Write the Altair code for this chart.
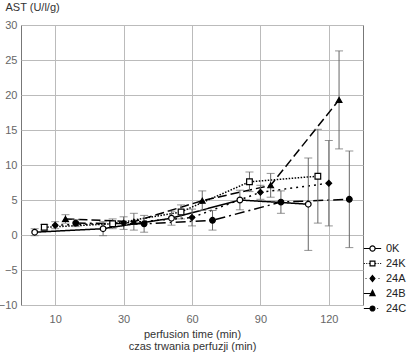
import altair as alt
import pandas as pd

# Perfusion time points (min) and experimental groups
time_points = [10, 30, 60, 90, 120]
groups = ["0K", "24K", "24A", "24B", "24C"]

# Mean AST release (U/l/g) per group at each time point
mean_0K = [0.4, 0.9, 2.4, 5.0, 4.4]
mean_24K = [1.1, 1.6, 3.3, 7.6, 8.4]
mean_24A = [1.4, 1.7, 2.5, 6.1, 7.4]
mean_24B = [2.3, 1.9, 4.9, 7.1, 19.3]
mean_24C = [1.7, 1.6, 2.1, 4.7, 5.1]

# Standard deviations
sd_0K = [0.5, 1.0, 1.0, 1.4, 6.6]
sd_24K = [0.4, 0.7, 1.0, 1.4, 6.7]
sd_24A = [0.5, 0.9, 1.2, 1.0, 6.1]
sd_24B = [0.6, 1.2, 1.4, 1.7, 7.0]
sd_24C = [0.5, 1.2, 1.4, 1.6, 6.9]

means = [mean_0K, mean_24K, mean_24A, mean_24B, mean_24C]
sds = [sd_0K, sd_24K, sd_24A, sd_24B, sd_24C]

# Horizontal shift of each group around its time point, so bars do not overlap
shift = [-0.30, -0.16, 0.0, 0.15, 0.30]
marker = ["circle", "square", "diamond", "triangle-up", "circle"]
marker_fill = ["white", "white", "black", "black", "black"]
dashes = [[1, 0], [1.5, 1.5], [2, 4], [9, 4], [10, 4, 2, 4]]

rows = []
for g, name in enumerate(groups):
    for i, t in enumerate(time_points):
        m, s = means[g][i], sds[g][i]
        rows.append({
            "group": name,
            "time": t,
            "pos": i + 1 + shift[g],
            "mean": m,
            "lo": m - s,
            "hi": m + s,
            "shape": marker[g],
            "fill": marker_fill[g],
        })
df = pd.DataFrame(rows)

label_expr = " : ".join(
    f"datum.value == {i + 1} ? '{t}'" for i, t in enumerate(time_points)
) + " : ''"

font = "Liberation Sans"

x_axis = alt.Axis(
    values=[1, 2, 3, 4, 5],
    labelExpr=label_expr,
    title=["perfusion time (min)", "czas trwania perfuzji (min)"],
    ticks=False,
    domain=False,
    labelPadding=8,
    titlePadding=4,
    titleLineHeight=12,
)
y_axis = alt.Axis(
    values=list(range(-10, 31, 5)),
    title="AST (U/l/g)",
    titleAngle=0,
    titleAlign="left",
    titleBaseline="alphabetic",
    titleX=-16,
    titleY=-15,
    ticks=False,
    domain=False,
    labelPadding=4,
)
x_scale = alt.Scale(domain=[0.5, 5.5], nice=False, zero=False)
y_scale = alt.Scale(domain=[-10, 30], nice=False)

x = alt.X("pos:Q", scale=x_scale, axis=x_axis)
y = alt.Y("mean:Q", scale=y_scale, axis=y_axis)

base = alt.Chart(df)

lines = base.mark_line(color="black", strokeWidth=1.5).encode(
    x=x,
    y=y,
    detail="group:N",
    order="pos:Q",
    strokeDash=alt.StrokeDash(
        "group:N",
        scale=alt.Scale(domain=groups, range=dashes),
        legend=None,
    ),
)

bars = base.mark_rule(color="#666", strokeWidth=1).encode(
    x=x, y=alt.Y("lo:Q", scale=y_scale, axis=y_axis), y2="hi:Q"
)
cap_lo = base.mark_tick(color="#666", orient="horizontal", size=8, thickness=1).encode(
    x=x, y=alt.Y("lo:Q", scale=y_scale, axis=y_axis)
)
cap_hi = base.mark_tick(color="#666", orient="horizontal", size=8, thickness=1).encode(
    x=x, y=alt.Y("hi:Q", scale=y_scale, axis=y_axis)
)

points = base.mark_point(filled=True, stroke="black", strokeWidth=1.2, size=32, opacity=1).encode(
    x=x,
    y=y,
    shape=alt.Shape("shape:N", scale=None, legend=None),
    fill=alt.Fill("fill:N", scale=None, legend=None),
)

# Legend symbols: a short line in the group's style with its marker in the middle
legend_paths = [
    "M-1,0L-0.33,0M0.33,0L1,0M-0.3,0A0.3,0.3 0 1 0 0.3,0A0.3,0.3 0 1 0 -0.3,0Z",
    "M-1,0L-0.88,0M-0.72,0L-0.6,0M-0.44,0L-0.32,0M0.32,0L0.44,0M0.6,0L0.72,0M0.88,0L1,0"
    "M-0.28,-0.28L0.28,-0.28L0.28,0.28L-0.28,0.28Z",
    "M-0.8,0L-0.7,0M0.7,0L0.8,0M0,-0.34L0.28,0L0,0.34L-0.28,0Z",
    "M-1,0L-0.25,0M0,-0.36L0.3,0.24L-0.3,0.24Z",
    "M-1,0L-0.3,0M0.55,0L0.65,0M-0.28,0A0.28,0.28 0 1 0 0.28,0A0.28,0.28 0 1 0 -0.28,0Z",
]
legend_spec = alt.Legend(
    title=None,
    orient="none",
    legendX=342,
    legendY=214,
    symbolSize=300,
    symbolStrokeWidth=1.2,
    symbolOpacity=1,
    rowPadding=-4,
    labelFontSize=11,
    labelColor="#222",
    labelFont=font,
    labelOffset=4,
    padding=0,
)
legend_layer = base.mark_point(opacity=0, filled=False, strokeWidth=1.2).encode(
    x=x,
    y=y,
    shape=alt.Shape("group:N", scale=alt.Scale(domain=groups, range=legend_paths), legend=legend_spec),
    fill=alt.Fill("group:N", scale=alt.Scale(domain=groups, range=marker_fill), legend=legend_spec),
    stroke=alt.Stroke("group:N", scale=alt.Scale(domain=groups, range=["black"] * len(groups)), legend=legend_spec),
)

chart = (
    alt.layer(lines, bars, cap_lo, cap_hi, points, legend_layer)
    .resolve_scale(shape="independent", fill="independent", stroke="independent")
    .properties(
        width=342,
        height=280,
        autosize=alt.AutoSizeParams(type="none"),
        padding={"left": 21, "top": 25, "right": 55, "bottom": 49},
        background="white",
    )
    .configure_view(stroke="#777", strokeWidth=1)
    .configure_axis(
        gridColor="#bbb",
        gridWidth=1,
        labelFont=font,
        labelFontSize=11,
        labelColor="#666",
        titleFont=font,
        titleFontSize=11,
        titleFontWeight="normal",
        titleColor="#333",
    )
)

chart.save("out.html", embed_options={"renderer": "svg", "actions": False})
